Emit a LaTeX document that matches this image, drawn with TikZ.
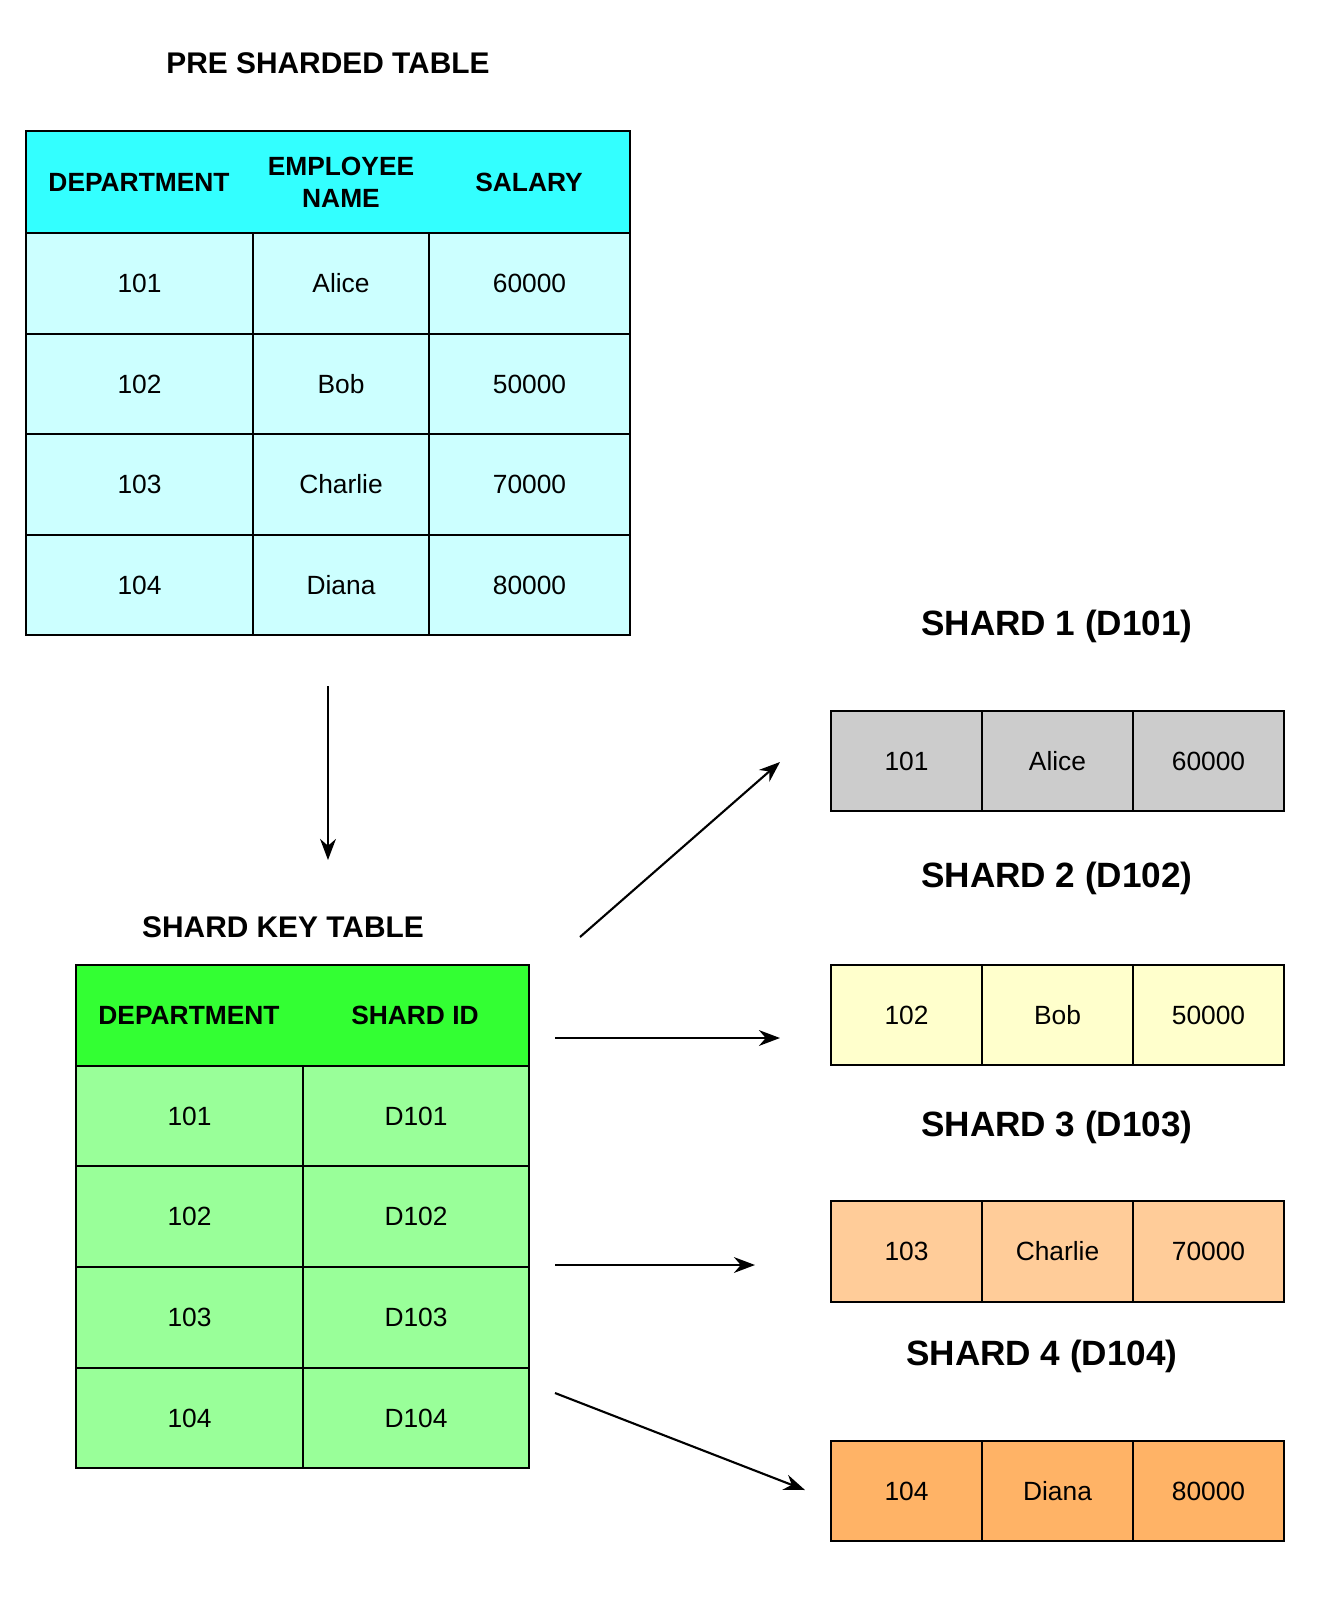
\documentclass[tikz,border=0pt]{standalone}
\usepackage{fontspec}
\setmainfont{Liberation Sans}
\usetikzlibrary{arrows.meta}
\definecolor{hcyan}{HTML}{33FFFF}\definecolor{lcyan}{HTML}{CCFFFF}
\definecolor{hgreen}{HTML}{33FF33}\definecolor{lgreen}{HTML}{99FF99}
\definecolor{sA}{HTML}{CCCCCC}\definecolor{sB}{HTML}{FFFFCC}
\definecolor{sC}{HTML}{FFCC99}\definecolor{sD}{HTML}{FFB366}
\begin{document}
\begin{tikzpicture}[x=0.02cm,y=-0.02cm,
  cellbox/.style={draw=black,line width=1.2pt,inner sep=0pt},
  celltxt/.style={font=\fontsize{15}{17}\selectfont},
  hdrtxt/.style={font=\fontsize{15}{18}\selectfont\bfseries,align=center},
  ttl/.style={font=\fontsize{20}{24}\selectfont\bfseries},
  ttlsmall/.style={font=\fontsize{17}{20}\selectfont\bfseries},
  arr/.style={line width=1.2pt,-{Stealth[length=12pt,width=9pt]}}]
\useasboundingbox (0,0) rectangle (1338,1600);
\newcommand{\cell}[6]{\filldraw[cellbox,fill=#5] (#1,#2) rectangle (#3,#4); \node[celltxt] at ({(#1+#3)/2},{(#2+#4)/2}) {#6};}
% table 1
\node[ttlsmall] (t1) at (328,63) {PRE SHARDED TABLE};
\filldraw[cellbox,fill=hcyan] (26,131) rectangle (630,233);
\node[hdrtxt] at (139,182) {DEPARTMENT};
\node[hdrtxt] at (341,182) {EMPLOYEE\\NAME};
\node[hdrtxt] at (529,182) {SALARY};
\foreach \ya/\yb/\a/\b/\c in {233/334/101/Alice/60000,334/434/102/Bob/50000,434/535/103/Charlie/70000,535/635/104/Diana/80000}{
  \cell{26}{\ya}{253}{\yb}{lcyan}{\a}
  \cell{253}{\ya}{429}{\yb}{lcyan}{\b}
  \cell{429}{\ya}{630}{\yb}{lcyan}{\c}
}
\coordinate (d1) at (328,686); \coordinate (d2) at (328,860);
\draw[arr] (d1) -- (d2);
% table 2
\node[ttlsmall] (t2) at (283,927) {SHARD KEY TABLE};
\filldraw[cellbox,fill=hgreen] (76,965) rectangle (529,1066);
\node[hdrtxt] at (189,1015) {DEPARTMENT};
\node[hdrtxt] at (415,1015) {SHARD ID};
\foreach \ya/\yb/\a/\b in {1066/1166/101/D101,1166/1267/102/D102,1267/1368/103/D103,1368/1468/104/D104}{
  \cell{76}{\ya}{303}{\yb}{lgreen}{\a}
  \cell{303}{\ya}{529}{\yb}{lgreen}{\b}
}
% shards
\node[ttl] (s1) at (1057,626) {SHARD 1 (D101)};
\node[ttl] (s2) at (1057,878) {SHARD 2 (D102)};
\node[ttl] (s3) at (1057,1127) {SHARD 3 (D103)};
\node[ttl] (s4) at (1042,1356) {SHARD 4 (D104)};
\foreach \ya/\yb/\f/\a/\b/\c in {711/811/sA/101/Alice/60000,965/1065/sB/102/Bob/50000,1201/1302/sC/103/Charlie/70000,1441/1541/sD/104/Diana/80000}{
  \cell{831}{\ya}{982}{\yb}{\f}{\a}
  \cell{982}{\ya}{1133}{\yb}{\f}{\b}
  \cell{1133}{\ya}{1284}{\yb}{\f}{\c}
}
\coordinate (a1) at (580,937); \coordinate (b1) at (780,762);
\coordinate (a2) at (555,1038); \coordinate (b2) at (780,1038);
\coordinate (a3) at (555,1265); \coordinate (b3) at (755,1265);
\coordinate (a4) at (555,1393); \coordinate (b4) at (805,1490);
\draw[arr] (a1) -- (b1);
\draw[arr] (a2) -- (b2);
\draw[arr] (a3) -- (b3);
\draw[arr] (a4) -- (b4);
\end{tikzpicture}
\end{document}
